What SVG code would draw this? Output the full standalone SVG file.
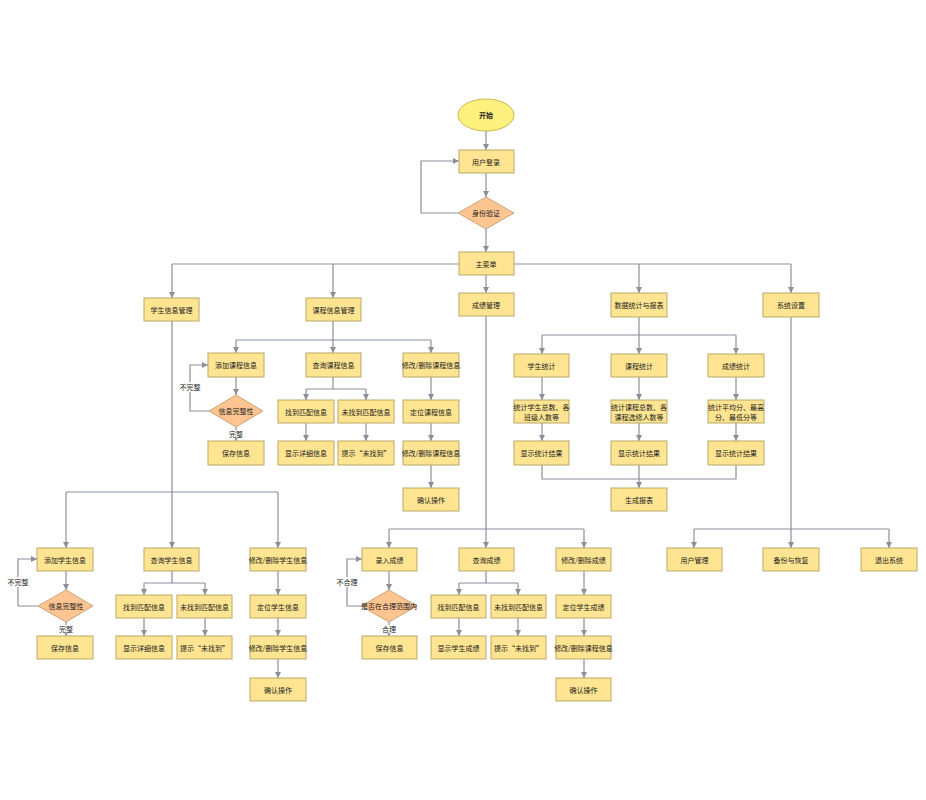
<svg xmlns="http://www.w3.org/2000/svg" width="926" height="800" viewBox="0 0 926 800">
<defs>
<marker id="a" markerWidth="8" markerHeight="8" refX="6" refY="3" orient="auto" markerUnits="userSpaceOnUse"><path d="M0,0 L6,3 L0,6 z" fill="#8a8f99"/></marker>
<style>
.b{fill:#ffe591;stroke:#b9a868;stroke-width:1}
.d{fill:#ffc591;stroke:#c9a57a;stroke-width:1}
.e{fill:#fff17e;stroke:#c8b54a;stroke-width:1}
text{font-family:"Noto Sans CJK SC","Liberation Sans",sans-serif;font-size:7px;fill:#222;text-anchor:middle;dominant-baseline:central}
.c path{fill:none;stroke:#8a8f99;stroke-width:1.2}
.c path.m{marker-end:url(#a)}
.w{fill:#fff}
</style>
</defs>
<rect width="926" height="800" fill="#fff"/>
<g class="c">
<path class="m" d="M486,131 V150"/>
<path class="m" d="M486,173 V197"/>
<path class="m" d="M458,213 H421 V161 H459"/>
<path class="m" d="M486,229 V252"/>
<path d="M172,264 H791"/>
<path class="m" d="M172,264 V298"/>
<path class="m" d="M333,264 V298"/>
<path class="m" d="M486,275 V293"/>
<path class="m" d="M639,264 V293"/>
<path class="m" d="M791,264 V293"/>
<path d="M333,321 V340 M236,340 H431"/>
<path class="m" d="M236,340 V353"/>
<path class="m" d="M333,340 V353"/>
<path class="m" d="M431,340 V353"/>
<path class="m" d="M236,377 V395"/>
<path class="m" d="M209,411 H190 V365 H208"/>
<path class="m" d="M236,427 V441"/>
<path d="M333,377 V389 M306,389 H366"/>
<path class="m" d="M306,389 V400"/>
<path class="m" d="M366,389 V400"/>
<path class="m" d="M306,423 V441"/>
<path class="m" d="M366,423 V441"/>
<path class="m" d="M431,377 V400"/>
<path class="m" d="M431,423 V441"/>
<path class="m" d="M431,465 V488"/>
<path d="M172,321 V492 M66,492 H278"/>
<path class="m" d="M66,492 V548"/>
<path class="m" d="M172,492 V548"/>
<path class="m" d="M278,492 V548"/>
<path class="m" d="M66,571 V590"/>
<path class="m" d="M38,606 H18 V559 H37"/>
<path class="m" d="M66,622 V636"/>
<path d="M172,571 V583 M144,583 H205"/>
<path class="m" d="M144,583 V595"/>
<path class="m" d="M205,583 V595"/>
<path class="m" d="M144,618 V636"/>
<path class="m" d="M205,618 V636"/>
<path class="m" d="M278,571 V595"/>
<path class="m" d="M278,618 V636"/>
<path class="m" d="M278,659 V678"/>
<path d="M486,316 V529 M389,529 H584"/>
<path class="m" d="M389,529 V548"/>
<path class="m" d="M486,529 V548"/>
<path class="m" d="M584,529 V548"/>
<path class="m" d="M389,571 V590"/>
<path class="m" d="M361,606 H347 V559 H362"/>
<path class="m" d="M389,622 V636"/>
<path d="M486,571 V583 M459,583 H518"/>
<path class="m" d="M459,583 V595"/>
<path class="m" d="M518,583 V595"/>
<path class="m" d="M459,618 V636"/>
<path class="m" d="M518,618 V636"/>
<path class="m" d="M584,571 V595"/>
<path class="m" d="M584,618 V636"/>
<path class="m" d="M584,659 V678"/>
<path d="M639,317 V335 M542,335 H736"/>
<path class="m" d="M542,335 V354"/>
<path class="m" d="M639,335 V354"/>
<path class="m" d="M736,335 V354"/>
<path class="m" d="M542,377 V400"/>
<path class="m" d="M639,377 V400"/>
<path class="m" d="M736,377 V400"/>
<path class="m" d="M542,423 V441"/>
<path class="m" d="M639,423 V441"/>
<path class="m" d="M736,423 V441"/>
<path d="M542,465 V479 H736 V465 M639,465 V479"/>
<path class="m" d="M639,479 V488"/>
<path d="M791,317 V529 M694,529 H889"/>
<path class="m" d="M694,529 V548"/>
<path class="m" d="M791,529 V548"/>
<path class="m" d="M889,529 V548"/>
</g>
<g id="labels">
<rect class="w" x="179" y="382" width="22" height="10"/><text x="190" y="387">不完整</text>
<rect class="w" x="228" y="430" width="16" height="8"/><text x="236" y="434">完整</text>
<rect class="w" x="7" y="577" width="22" height="10"/><text x="18" y="582">不完整</text>
<rect class="w" x="58" y="625" width="16" height="8"/><text x="66" y="629">完整</text>
<rect class="w" x="336" y="577" width="22" height="10"/><text x="347" y="582">不合理</text>
<rect class="w" x="381" y="625" width="16" height="8"/><text x="389" y="629">合理</text>
</g>
<g id="start"><ellipse class="e" cx="486" cy="115" rx="28" ry="16"/><text x="486" y="115" font-weight="bold">开始</text></g>
<g id="login"><rect class="b" x="459" y="150" width="55" height="23"/><text x="486" y="161.5">用户登录</text></g>
<g id="auth"><path class="d" d="M486,197 L514,213 L486,229 L458,213 z"/><text x="486" y="213">身份验证</text></g>
<g id="menu"><rect class="b" x="459" y="252" width="55" height="23"/><text x="486" y="263.5">主菜单</text></g>
<g id="stu"><rect class="b" x="144" y="298" width="55" height="23"/><text x="171.5" y="309.5">学生信息管理</text></g>
<g id="course"><rect class="b" x="306" y="298" width="55" height="23"/><text x="333.5" y="309.5">课程信息管理</text></g>
<g id="score"><rect class="b" x="459" y="293" width="55" height="23"/><text x="486" y="304.5">成绩管理</text></g>
<g id="stats"><rect class="b" x="611" y="293" width="56" height="24"/><text x="639" y="305">数据统计与报表</text></g>
<g id="sys"><rect class="b" x="763" y="293" width="56" height="24"/><text x="791" y="305">系统设置</text></g>
<g id="c1"><rect class="b" x="208" y="353" width="56" height="24"/><text x="236" y="365">添加课程信息</text></g>
<g id="c2"><rect class="b" x="306" y="353" width="55" height="24"/><text x="333.5" y="365">查询课程信息</text></g>
<g id="c3"><rect class="b" x="403" y="353" width="56" height="24"/><text x="431" y="365">修改/删除课程信息</text></g>
<g id="c4"><path class="d" d="M236,395 L263,411 L236,427 L209,411 z"/><text x="236" y="411">信息完整性</text></g>
<g id="c5"><rect class="b" x="208" y="441" width="56" height="24"/><text x="236" y="453">保存信息</text></g>
<g id="c6"><rect class="b" x="278" y="400" width="56" height="23"/><text x="306" y="411.5">找到匹配信息</text></g>
<g id="c7"><rect class="b" x="338" y="400" width="56" height="23"/><text x="366" y="411.5">未找到匹配信息</text></g>
<g id="c8"><rect class="b" x="278" y="441" width="56" height="24"/><text x="306" y="453">显示详细信息</text></g>
<g id="c9"><rect class="b" x="338" y="441" width="56" height="24"/><text x="366" y="453">提示“未找到”</text></g>
<g id="c10"><rect class="b" x="403" y="400" width="56" height="23"/><text x="431" y="411.5">定位课程信息</text></g>
<g id="c11"><rect class="b" x="403" y="441" width="56" height="24"/><text x="431" y="453">修改/删除课程信息</text></g>
<g id="c12"><rect class="b" x="403" y="488" width="56" height="23"/><text x="431" y="499.5">确认操作</text></g>
<g id="s1"><rect class="b" x="37" y="548" width="56" height="23"/><text x="65" y="559.5">添加学生信息</text></g>
<g id="s2"><rect class="b" x="144" y="548" width="55" height="23"/><text x="171.5" y="559.5">查询学生信息</text></g>
<g id="s3"><rect class="b" x="250" y="548" width="56" height="23"/><text x="278" y="559.5">修改/删除学生信息</text></g>
<g id="s4"><path class="d" d="M66,590 L93,606 L66,622 L38,606 z"/><text x="66" y="606">信息完整性</text></g>
<g id="s5"><rect class="b" x="37" y="636" width="56" height="23"/><text x="65" y="647.5">保存信息</text></g>
<g id="s6"><rect class="b" x="116" y="595" width="56" height="23"/><text x="144" y="606.5">找到匹配信息</text></g>
<g id="s7"><rect class="b" x="177" y="595" width="55" height="23"/><text x="204.5" y="606.5">未找到匹配信息</text></g>
<g id="s8"><rect class="b" x="116" y="636" width="56" height="23"/><text x="144" y="647.5">显示详细信息</text></g>
<g id="s9"><rect class="b" x="177" y="636" width="55" height="23"/><text x="204.5" y="647.5">提示“未找到”</text></g>
<g id="s10"><rect class="b" x="250" y="595" width="56" height="23"/><text x="278" y="606.5">定位学生信息</text></g>
<g id="s11"><rect class="b" x="250" y="636" width="56" height="23"/><text x="278" y="647.5">修改/删除学生信息</text></g>
<g id="s12"><rect class="b" x="250" y="678" width="56" height="23"/><text x="278" y="689.5">确认操作</text></g>
<g id="g1"><rect class="b" x="362" y="548" width="55" height="23"/><text x="389.5" y="559.5">录入成绩</text></g>
<g id="g2"><rect class="b" x="459" y="548" width="55" height="23"/><text x="486.5" y="559.5">查询成绩</text></g>
<g id="g3"><rect class="b" x="556" y="548" width="55" height="23"/><text x="583.5" y="559.5">修改/删除成绩</text></g>
<g id="g4"><path class="d" d="M389,590 L417,606 L389,622 L361,606 z"/><text x="389" y="606">是否在合理范围内</text></g>
<g id="g5"><rect class="b" x="362" y="636" width="55" height="23"/><text x="389.5" y="647.5">保存信息</text></g>
<g id="g6"><rect class="b" x="431" y="595" width="55" height="23"/><text x="458.5" y="606.5">找到匹配信息</text></g>
<g id="g7"><rect class="b" x="491" y="595" width="55" height="23"/><text x="518.5" y="606.5">未找到匹配信息</text></g>
<g id="g8"><rect class="b" x="431" y="636" width="55" height="23"/><text x="458.5" y="647.5">显示学生成绩</text></g>
<g id="g9"><rect class="b" x="491" y="636" width="55" height="23"/><text x="518.5" y="647.5">提示“未找到”</text></g>
<g id="g10"><rect class="b" x="556" y="595" width="55" height="23"/><text x="583.5" y="606.5">定位学生成绩</text></g>
<g id="g11"><rect class="b" x="556" y="636" width="55" height="23"/><text x="583.5" y="647.5">修改/删除课程信息</text></g>
<g id="g12"><rect class="b" x="556" y="678" width="55" height="23"/><text x="583.5" y="689.5">确认操作</text></g>
<g id="t1"><rect class="b" x="514" y="354" width="55" height="23"/><text x="541.5" y="365.5">学生统计</text></g>
<g id="t2"><rect class="b" x="611" y="354" width="56" height="23"/><text x="639" y="365.5">课程统计</text></g>
<g id="t3"><rect class="b" x="708" y="354" width="56" height="23"/><text x="736" y="365.5">成绩统计</text></g>
<g id="t4"><rect class="b" x="514" y="400" width="55" height="23"/><text x="541.5" y="406.5">统计学生总数、各</text><text x="541.5" y="416.5">班级人数等</text></g>
<g id="t5"><rect class="b" x="611" y="400" width="56" height="23"/><text x="639" y="406.5">统计课程总数、各</text><text x="639" y="416.5">课程选修人数等</text></g>
<g id="t6"><rect class="b" x="708" y="400" width="56" height="23"/><text x="736" y="406.5">统计平均分、最高</text><text x="736" y="416.5">分、最低分等</text></g>
<g id="t7"><rect class="b" x="514" y="441" width="55" height="24"/><text x="541.5" y="453">显示统计结果</text></g>
<g id="t8"><rect class="b" x="611" y="441" width="56" height="24"/><text x="639" y="453">显示统计结果</text></g>
<g id="t9"><rect class="b" x="708" y="441" width="56" height="24"/><text x="736" y="453">显示统计结果</text></g>
<g id="t10"><rect class="b" x="611" y="488" width="56" height="23"/><text x="639" y="499.5">生成报表</text></g>
<g id="y1"><rect class="b" x="667" y="548" width="55" height="23"/><text x="694.5" y="559.5">用户管理</text></g>
<g id="y2"><rect class="b" x="763" y="548" width="56" height="23"/><text x="791" y="559.5">备份与恢复</text></g>
<g id="y3"><rect class="b" x="861" y="548" width="56" height="23"/><text x="889" y="559.5">退出系统</text></g>
</svg>
